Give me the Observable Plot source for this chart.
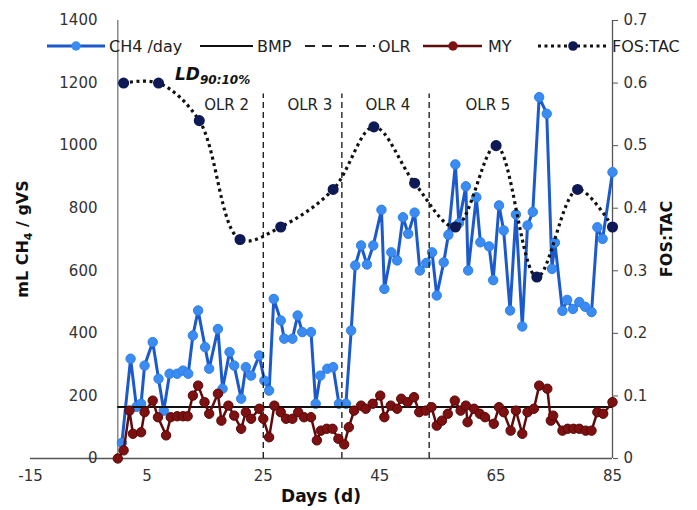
<!DOCTYPE html>
<html><head><meta charset="utf-8">
<script src="https://cdn.jsdelivr.net/npm/d3@7"></script>
<script src="https://cdn.jsdelivr.net/npm/@observablehq/plot@0.6"></script>
<style>body{margin:0;background:#fff}#chart{width:697px;height:510px}</style>
</head><body><div id="chart"></div>
<script>
// ---- data ----
const ch4Days = [0.7,2.2,3.2,4.0,4.6,6.0,7.0,7.9,8.9,10.2,11.2,12.1,12.9,13.8,15.0,15.7,17.2,18.0,19.2,20.0,21.2,22.0,22.9,24.3,25.2,26.0,26.8,28.0,28.6,30.0,30.9,31.7,33.2,34.0,34.8,36.0,37.0,38.0,39.2,40.1,40.8,41.8,42.8,43.9,45.3,45.8,47.0,48.0,49.0,49.9,51.0,51.9,53.0,54.0,54.8,56.0,56.8,58.0,58.6,59.8,60.2,61.6,62.3,63.8,64.5,65.5,66.3,67.4,68.4,69.5,70.4,71.3,72.4,73.7,74.6,75.1,76.4,77.2,78.2,79.3,80.3,81.4,82.4,83.3,85.0];
const ch4Values = [50,319,165,175,297,372,255,153,271,271,281,271,393,473,356,287,414,223,340,297,191,292,265,329,249,217,510,441,383,383,457,404,404,175,265,287,292,175,175,409,617,681,620,681,795,542,659,633,771,718,786,601,625,659,521,627,715,940,752,870,601,835,691,678,570,809,729,473,780,422,745,788,1155,1102,606,690,472,507,478,500,485,468,739,702,915];

const myDays = [0,1.0,2.0,2.6,4.0,4.6,6.0,6.9,8.3,9.1,10.2,11.2,12.0,12.9,13.8,14.9,15.7,17.2,17.8,19.0,20.0,21.2,22.0,22.9,24.3,25.0,26.0,26.9,28.0,28.9,30.0,31.0,32.0,33.2,34.2,34.9,35.9,36.9,37.9,38.9,39.7,40.6,41.8,42.6,43.8,45.1,45.8,46.9,48.0,48.7,49.8,50.9,51.8,52.9,53.9,54.8,55.7,56.7,57.9,58.9,59.8,60.1,61.2,62.2,63.1,64.6,65.5,66.3,67.5,68.4,69.5,70.4,71.5,72.4,73.8,74.4,74.8,76.4,77.3,78.3,79.3,80.4,81.4,82.4,83.4,85.0];
const myValues = [0,26,153,79,84,148,185,132,74,132,135,135,135,201,233,180,143,207,121,169,137,95,148,127,159,127,68,169,148,127,127,148,132,132,58,89,95,95,63,45,100,153,169,159,175,201,132,169,159,191,180,196,148,153,164,105,121,143,185,153,169,116,159,143,132,111,164,148,89,153,79,148,159,233,223,121,137,89,95,95,95,89,89,148,143,180];

const fosDays = [1,7,14,21,28,37,44,51,58,65,72,79,85];
const fosValues = [0.60,0.60,0.54,0.35,0.37,0.43,0.53,0.44,0.37,0.50,0.29,0.43,0.37];

const bmpValue = 165;
const olrBoundaries = [25, 38.5, 53.5];
const olrTop = 1165;
const olrLabels = ["OLR 2","OLR 3","OLR 4","OLR 5"];
const olrLabelDays = [18.7, 33, 46.4, 63.6];
const olrLabelY = 1128;

const xTicks = [-15,5,25,45,65,85];
const yTicks = [0,200,400,600,800,1000,1200,1400];
const fosToLeft = 2000; // right axis 0.7 <-> left axis 1400
const xDomain = [-15, 85];
const yDomain = [0, 1400];

// ---- tables ----
const ch4 = ch4Days.map((d,i)=>({day:d, v:ch4Values[i]}));
const my = myDays.map((d,i)=>({day:d, v:myValues[i]}));
const fos = fosDays.map((d,i)=>({day:d, v:fosValues[i]*fosToLeft}));
const olr = olrLabels.map((t,i)=>({label:t, day:olrLabelDays[i], v:olrLabelY}));

const FONT = "DejaVu Sans, sans-serif";
const BLUE_LINE = "#1c5acb", BLUE_DOT = "#3a8cf2";
const RED_LINE = "#5e0b0b", RED_DOT = "#7d1010";
const NAVY = "#0e1a56";

const chart = Plot.plot({
  width: 697, height: 510,
  marginLeft: 30, marginRight: 85, marginTop: 20, marginBottom: 52,
  x: {domain: xDomain},
  y: {domain: yDomain},
  style: {fontFamily: FONT, fontSize: "15px", color: "#222", background: "#fff", overflow: "visible"},
  marks: [
    Plot.ruleY([0], {x1: xDomain[0], x2: xDomain[1], stroke: "#555", strokeWidth: 1.3}),
    Plot.ruleX([0], {y1: yDomain[0], y2: yDomain[1], stroke: "#777", strokeWidth: 1.3}),
    Plot.ruleX([xDomain[1]], {y1: yDomain[0], y2: yDomain[1], stroke: "#555", strokeWidth: 1.3}),
    Plot.axisX({ticks: xTicks, tickSize: 0, tickPadding: 12, label: null, fill: "#333", tickFormat: d => String(d)}),
    Plot.axisY({ticks: yTicks, anchor: "left", tickSize: 0, tickPadding: 3, dx: 70, label: null, fill: "#333", tickFormat: d => String(d)}),
    Plot.axisY({ticks: yTicks, anchor: "right", tickSize: 5, tickPadding: 6, label: null, fill: "#333", stroke: "#555",
      tickFormat: d => d === 0 ? "0" : (d / fosToLeft).toFixed(1)}),
    Plot.line(ch4, {x: "day", y: "v", stroke: BLUE_LINE, strokeWidth: 3}),
    Plot.dot(ch4, {x: "day", y: "v", r: 4.7, fill: BLUE_DOT, stroke: "#2f7fe8", strokeWidth: 1}),
    Plot.ruleY([bmpValue], {x1: 0, x2: xDomain[1], stroke: "#111", strokeWidth: 2}),
    Plot.ruleX(olrBoundaries, {y1: 0, y2: olrTop, stroke: "#222", strokeWidth: 1.4, strokeDasharray: "6,4"}),
    Plot.text(olr, {x: "day", y: "v", text: "label", fontSize: 15, fill: "#222", fontFamily: FONT}),
    Plot.line(my, {x: "day", y: "v", stroke: RED_LINE, strokeWidth: 2.5}),
    Plot.dot(my, {x: "day", y: "v", r: 4.7, fill: RED_DOT, stroke: "#5a0808", strokeWidth: 1}),
    Plot.line(fos, {x: "day", y: "v", curve: "catmull-rom", stroke: "#111", strokeWidth: 3.2, strokeDasharray: "3,3.5", strokeLinecap: "butt"}),
    Plot.dot(fos, {x: "day", y: "v", r: 4.8, fill: NAVY, stroke: NAVY})
  ]
});
document.getElementById("chart").appendChild(chart);

// ---- titles, annotation & legend ----
const svg = d3.select(chart);
const yt = svg.append("text").attr("transform", "translate(28,239) rotate(-90)")
  .attr("text-anchor", "middle").attr("font-family", FONT).attr("font-weight", "bold")
  .attr("font-size", 16).attr("fill", "#111");
yt.append("tspan").text("mL CH");
yt.append("tspan").text("4").attr("font-size", 11).attr("dy", 4);
yt.append("tspan").text(" / gVS").attr("dy", -4);

svg.append("text").attr("transform", "translate(666,239) rotate(-90)")
  .attr("text-anchor", "middle").attr("dy", "0.35em").attr("font-family", FONT).attr("font-weight", "bold")
  .attr("font-size", 16).attr("fill", "#111").text("FOS:TAC");

svg.append("text").attr("x", 321).attr("y", 502).attr("text-anchor", "middle")
  .attr("font-family", FONT).attr("font-weight", "bold").attr("font-size", 17).attr("fill", "#111").text("Days (d)");

const ld = svg.append("text").attr("x", 175).attr("y", 80).attr("text-anchor", "start").attr("font-family", FONT)
  .attr("font-weight", "bold").attr("font-style", "italic").attr("font-size", 17).attr("fill", "#111");
ld.append("tspan").text("LD");
ld.append("tspan").text("90:10%").attr("font-size", 12).attr("dy", 4);

const LY = 46;
const lg = svg.append("g").attr("font-family", FONT).attr("font-size", 16).attr("fill", "#222").attr("text-anchor", "start");
function seg(x1, x2, stroke, w, dash) {
  const l = lg.append("line").attr("x1", x1).attr("x2", x2).attr("y1", LY).attr("y2", LY)
    .attr("stroke", stroke).attr("stroke-width", w);
  if (dash) l.attr("stroke-dasharray", dash);
}
function dot(x, fill, r) { lg.append("circle").attr("cx", x).attr("cy", LY).attr("r", r).attr("fill", fill); }
function label(x, t) { lg.append("text").attr("x", x).attr("y", LY).attr("dy", "0.35em").attr("text-anchor", "start").text(t); }
seg(47, 105, BLUE_LINE, 3); dot(76, BLUE_DOT, 4.7); label(109, "CH4 /day");
seg(200, 253, "#111", 2); label(257, "BMP");
seg(305, 375, "#222", 2, "10,7"); label(378, "OLR");
seg(423, 482, RED_LINE, 2.5); dot(453, RED_DOT, 4.7); label(488, "MY");
seg(538, 608, "#111", 3, "3,3.5"); dot(573, NAVY, 4.8); label(612, "FOS:TAC");
</script>
</body></html>
